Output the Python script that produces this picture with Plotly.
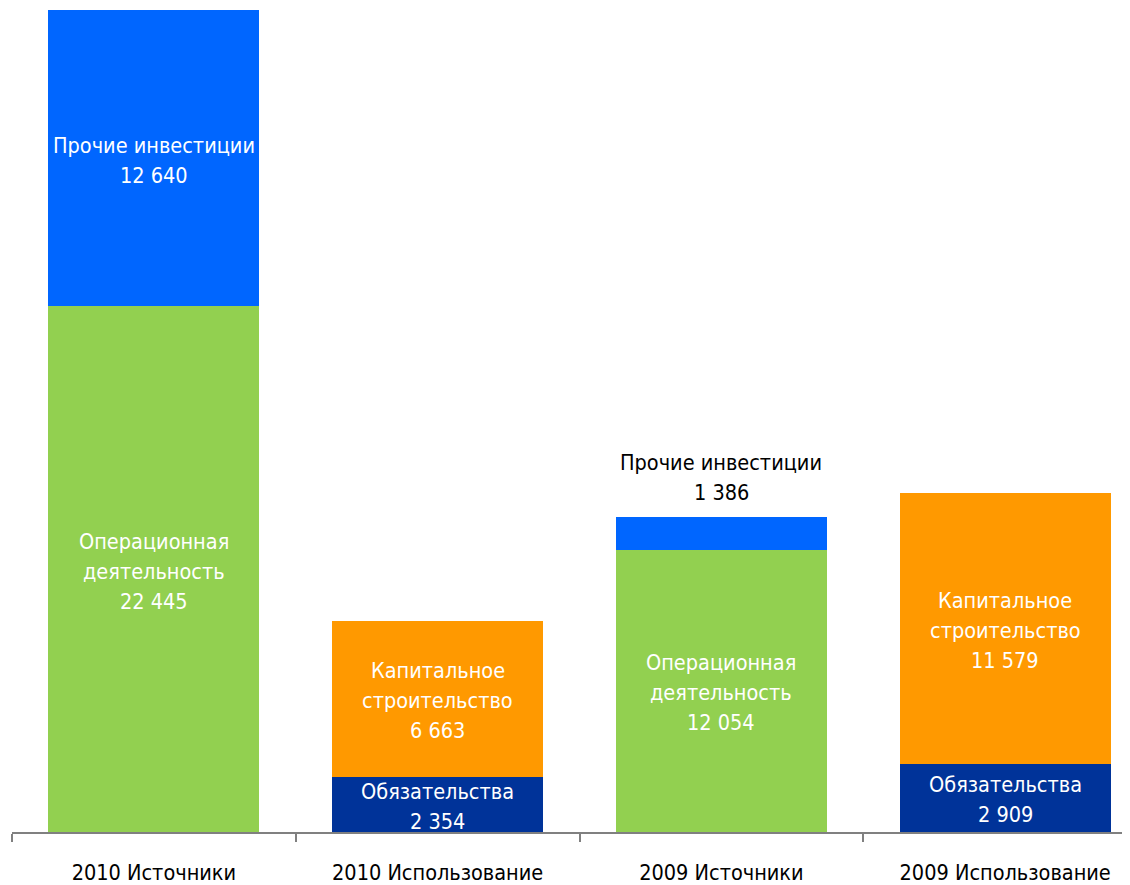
import plotly.graph_objects as go

categories = ["2010 Источники", "2010 Использование", "2009 Источники", "2009 Использование"]
operations = [22445, None, 12054, None]
other_inv = [12640, None, 1386, None]
obligations = [None, 2354, None, 2909]
capex = [None, 6663, None, 11579]

series = [
    (["Операционная", "деятельность"], operations, "#92D050"),
    (["Прочие инвестиции"], other_inv, "#0066FF"),
    (["Обязательства"], obligations, "#003399"),
    (["Капитальное", "строительство"], capex, "#FF9900"),
]

FONT = "DejaVu Sans Condensed, sans-serif"
FS = 21.5
LINE = 30

def fmt(v):
    return f"{v:,}".replace(",", " ")

fig = go.Figure()
base = [0, 0, 0, 0]
annotations = []
for name_lines, vals, color in series:
    fig.add_trace(go.Bar(x=categories, y=vals, name=" ".join(name_lines),
                         marker=dict(color=color, line=dict(width=0)),
                         width=0.744, textposition="none", hoverinfo="skip"))
    for i, v in enumerate(vals):
        if v is None:
            continue
        lines = name_lines + [fmt(v)]
        n = len(lines)
        outside = v < 2000
        for k, ln in enumerate(lines):
            if outside:
                y = base[i] + v
                shift = 25 + (n - 1 - k) * LINE
                col = "black"
            else:
                y = base[i] + v / 2
                shift = ((n - 1) / 2 - k) * LINE - 2
                col = "white"
            annotations.append(dict(x=categories[i], y=y, text=ln, showarrow=False,
                                    yanchor="middle", yshift=shift,
                                    font=dict(family=FONT, size=FS, color=col)))
        base[i] += v

fig.update_layout(
    barmode="stack",
    width=1130, height=885,
    margin=dict(l=4, r=8, t=2, b=61),
    plot_bgcolor="white", paper_bgcolor="white",
    showlegend=False,
    bargap=0,
    annotations=annotations,
    font=dict(family=FONT, size=FS, color="black"),
)
fig.update_xaxes(range=[-0.5, 3.44], showline=True, linecolor="#808080", linewidth=2,
                 ticks="outside", tickson="boundaries", ticklen=8, tickcolor="#808080", tickwidth=2,
                 showgrid=False, ticklabelstandoff=20,
                 tickfont=dict(family=FONT, size=FS, color="black"))
fig.update_yaxes(range=[0, 35085], visible=False, showgrid=False)

fig.write_html("out.html")
